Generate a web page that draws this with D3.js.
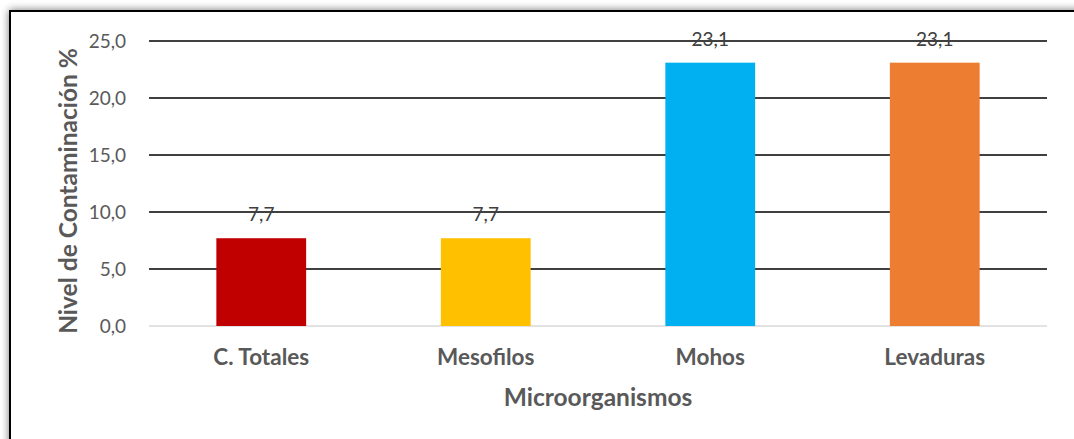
<!DOCTYPE html>
<html>
<head>
<meta charset="utf-8">
<script src="https://cdn.jsdelivr.net/npm/d3@7"></script>
<style>
  html, body { margin: 0; padding: 0; background: #fff; }
  svg { display: block; }
  text { font-family: Lato, "Open Sans", sans-serif; }
</style>
</head>
<body>
<svg id="chart" width="1074" height="439"></svg>
<script>
// Contamination level per microorganism group
const categories = ["C. Totales", "Mesofilos", "Mohos", "Levaduras"];
const values = [7.7, 7.7, 23.1, 23.1];
const barColors = ["#C00000", "#FFC000", "#00B0F0", "#ED7D31"];
const yTicks = [0, 5, 10, 15, 20, 25];
const yTitle = "Nivel de Contaminación %";
const xTitle = "Microorganismos";

const svg = d3.select("#chart");

// Frame with soft shadow
const defs = svg.append("defs");
const f = defs.append("filter").attr("id", "shadow")
  .attr("x", "-5%").attr("y", "-10%").attr("width", "110%").attr("height", "120%");
f.append("feGaussianBlur").attr("in", "SourceAlpha").attr("stdDeviation", 4).attr("result", "b");
f.append("feComponentTransfer").attr("in", "b").attr("result", "b2")
  .append("feFuncA").attr("type", "linear").attr("slope", 0.55);
const m = f.append("feMerge");
m.append("feMergeNode").attr("in", "b2");
m.append("feMergeNode").attr("in", "SourceGraphic");

svg.append("rect")
  .attr("x", 10).attr("y", 11).attr("width", 1100).attr("height", 460)
  .attr("fill", "#fff").attr("stroke", "#000").attr("stroke-width", 2)
  .attr("filter", "url(#shadow)");

const plot = { left: 149, right: 1047, top: 41, bottom: 326 };

const x = d3.scaleBand().domain(categories)
  .range([plot.left, plot.right]).paddingInner(0.6).paddingOuter(0.3);
const y = d3.scaleLinear().domain([0, 25]).range([plot.bottom, plot.top]);

// Gridlines
svg.append("g").selectAll("line").data(yTicks).join("line")
  .attr("x1", plot.left).attr("x2", plot.right)
  .attr("y1", d => y(d)).attr("y2", d => y(d))
  .attr("stroke", d => d === 0 ? "#d9d9d9" : "#000")
  .attr("stroke-width", d => d === 0 ? 1.5 : 1.6);

// Y tick labels
const fmt = d => d3.format(".1f")(d).replace(".", ",");
svg.append("g").selectAll("text").data(yTicks).join("text")
  .attr("x", 126).attr("y", d => y(d)).attr("dy", "0.36em")
  .attr("text-anchor", "end").attr("font-size", 19).attr("fill", "#595959")
  .text(fmt);

// Bars
svg.append("g").selectAll("rect").data(values).join("rect")
  .attr("x", (d, i) => x(categories[i]))
  .attr("width", x.bandwidth())
  .attr("y", d => y(d))
  .attr("height", d => y(0) - y(d))
  .attr("fill", (d, i) => barColors[i]);

// Value labels
svg.append("g").selectAll("text").data(values).join("text")
  .attr("x", (d, i) => x(categories[i]) + x.bandwidth() / 2)
  .attr("y", d => y(d) - 17)
  .attr("text-anchor", "middle").attr("font-size", 19).attr("fill", "#404040")
  .text(d => fmt(d));

// Category labels
svg.append("g").selectAll("text").data(categories).join("text")
  .attr("x", d => x(d) + x.bandwidth() / 2)
  .attr("y", 365)
  .attr("text-anchor", "middle").attr("font-size", 22.5).attr("font-weight", "bold")
  .attr("fill", "#595959")
  .text(d => d);

// Axis titles
svg.append("text")
  .attr("x", 598).attr("y", 406)
  .attr("text-anchor", "middle").attr("font-size", 24.5).attr("font-weight", "bold")
  .attr("fill", "#595959").text(xTitle);

svg.append("text")
  .attr("transform", "translate(77,191) rotate(-90)")
  .attr("text-anchor", "middle").attr("font-size", 24.5).attr("font-weight", "bold")
  .attr("fill", "#595959").text(yTitle);
</script>
</body>
</html>
